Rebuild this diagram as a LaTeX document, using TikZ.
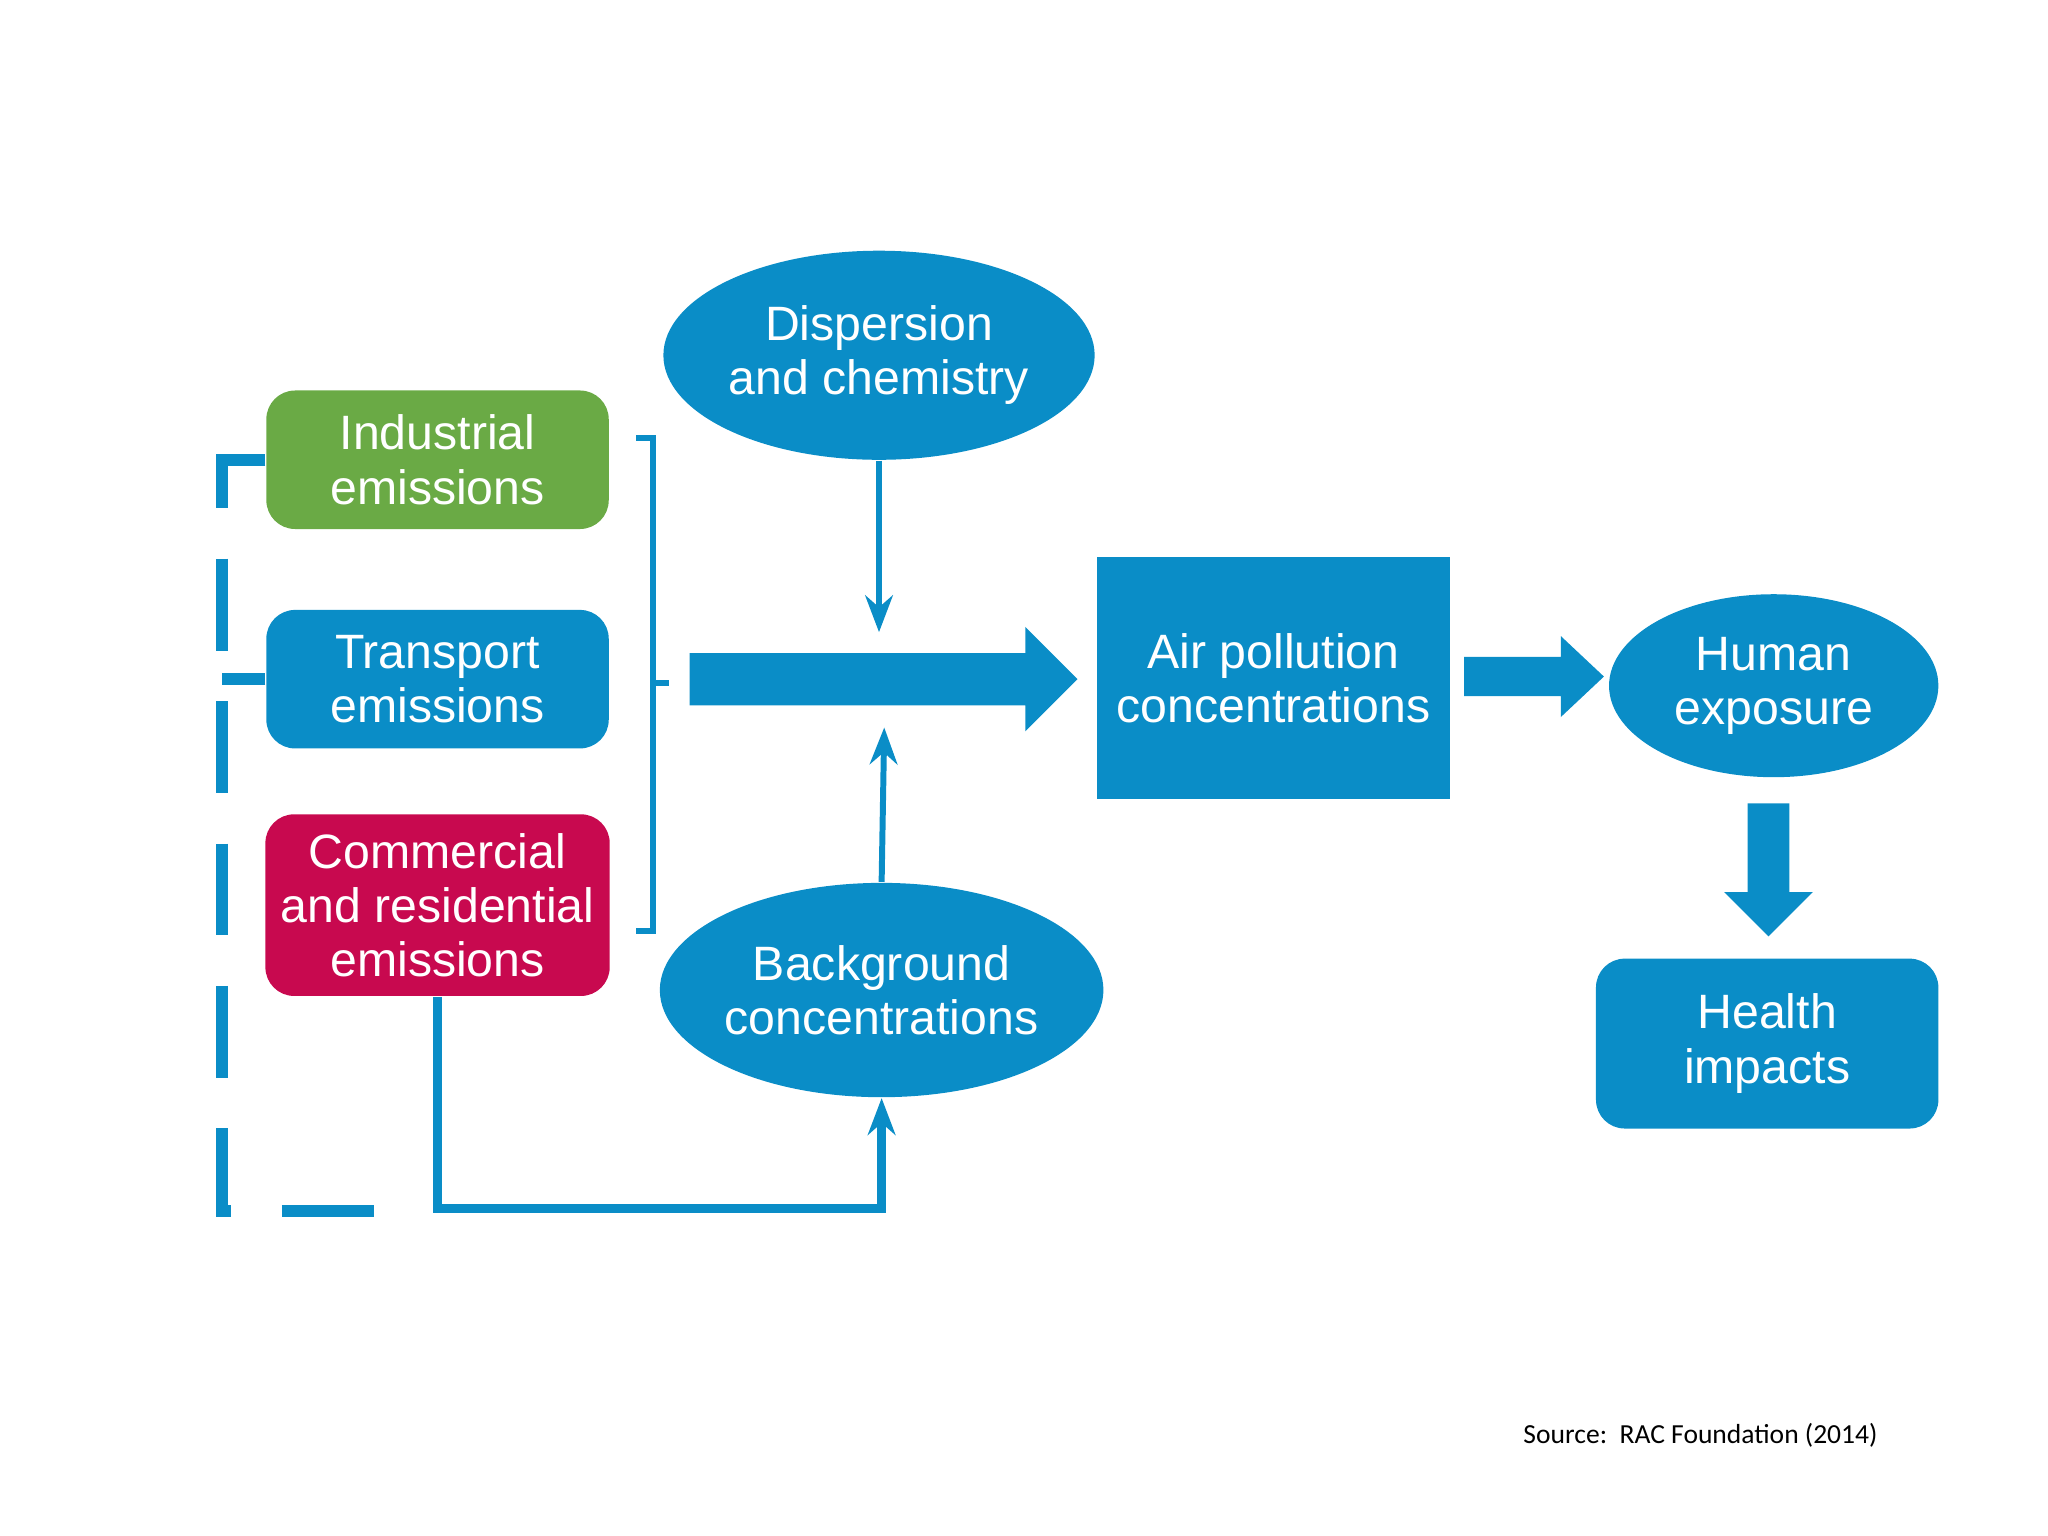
\documentclass[tikz,border=0pt]{standalone}
\usepackage{fontspec}
\setmainfont{Liberation Sans}
\newfontfamily\srcfont{Carlito}
\usetikzlibrary{shapes.geometric, arrows.meta}
\definecolor{pblue}{HTML}{0A8DC7}
\definecolor{pgreen}{HTML}{6AAA45}
\definecolor{pred}{HTML}{C8094F}
\tikzstyle{label} = [text=white, align=center, font=\fontsize{10.5}{11.8}\selectfont]
\tikzstyle{block} = [label, rectangle, rounded corners=2.2mm, minimum width=2.62cm]
\tikzstyle{cloud} = [label, ellipse, fill=pblue, inner sep=0]
\tikzstyle{thin} = [draw=pblue, line width=1.3pt]
\tikzstyle{fat} = [fill=pblue]
\begin{document}
\begin{tikzpicture}[x=0.01cm, y=-0.01cm]
        \useasboundingbox (0,0) rectangle (1568,1176);
        \node [cloud, minimum width=3.3cm, minimum height=1.6cm] (dispersion) at (673,272) {Dispersion\\and chemistry};
        \node [block, fill=pgreen, minimum height=1.06cm] (industrial) at (335,352) {Industrial\\emissions};
        \node [block, fill=pblue, minimum height=1.06cm] (transport) at (335,520) {Transport\\emissions};
        \node [block, fill=pred, minimum height=1.39cm] (commercial) at (335,693) {Commercial\\and residential\\emissions};
        \node [label, rectangle, fill=pblue, minimum width=2.7cm, minimum height=1.85cm] (air) at (975,519) {Air pollution\\concentrations};
        \node [cloud, minimum width=2.52cm, minimum height=1.4cm] (human) at (1358,525) {Human\\exposure};
        \node [block, fill=pblue, minimum height=1.3cm] (health) at (1353,799) {Health\\impacts};
        \node [cloud, minimum width=3.36cm, minimum height=1.64cm] (background) at (675,758) {Background\\concentrations};
        \node [anchor=west, font=\srcfont\fontsize{6}{7}\selectfont] (source) at (1154,1099) {Source:\ \ RAC Foundation (2014)};

        % block arrows
        \fill [fat] (528,500) -- (785,500) -- (785,480) -- (825,520) -- (785,560) -- (785,540) -- (528,540) -- cycle;
        \fill [fat] (1121,503) -- (1195,503) -- (1195,487) -- (1228,518) -- (1195,549) -- (1195,533) -- (1121,533) -- cycle;
        \fill [fat] (1338,615) -- (1370,615) -- (1370,683) -- (1388,683) -- (1354,717) -- (1320,683) -- (1338,683) -- cycle;

        % bracket
        \coordinate (brace) at (500,523);
        \draw [thin] (487,335) -| (500,713) -- (487,713);
        \draw [thin] (brace) -- (512,523);

        % thin connectors
        \coordinate (topIn) at (673,484);
        \coordinate (botIn) at (677,557);
        \draw [thin, -{Stealth[length=8pt]}] (dispersion) -- (topIn);
        \draw [thin, -{Stealth[length=8pt]}] (background.north) -- (botIn);
        \draw [thin, line width=2pt, -{Stealth[length=8pt]}] (commercial.south) -- (335,925) -| (background.south);
        \draw [pblue, line width=2.6pt, dash pattern=on 20pt off 11pt] (industrial.west) -- (170,352) -- (170,927) -- (322,927);
        \draw [pblue, line width=2.6pt] (transport.west) -- (170,520);
\end{tikzpicture}
\end{document}
